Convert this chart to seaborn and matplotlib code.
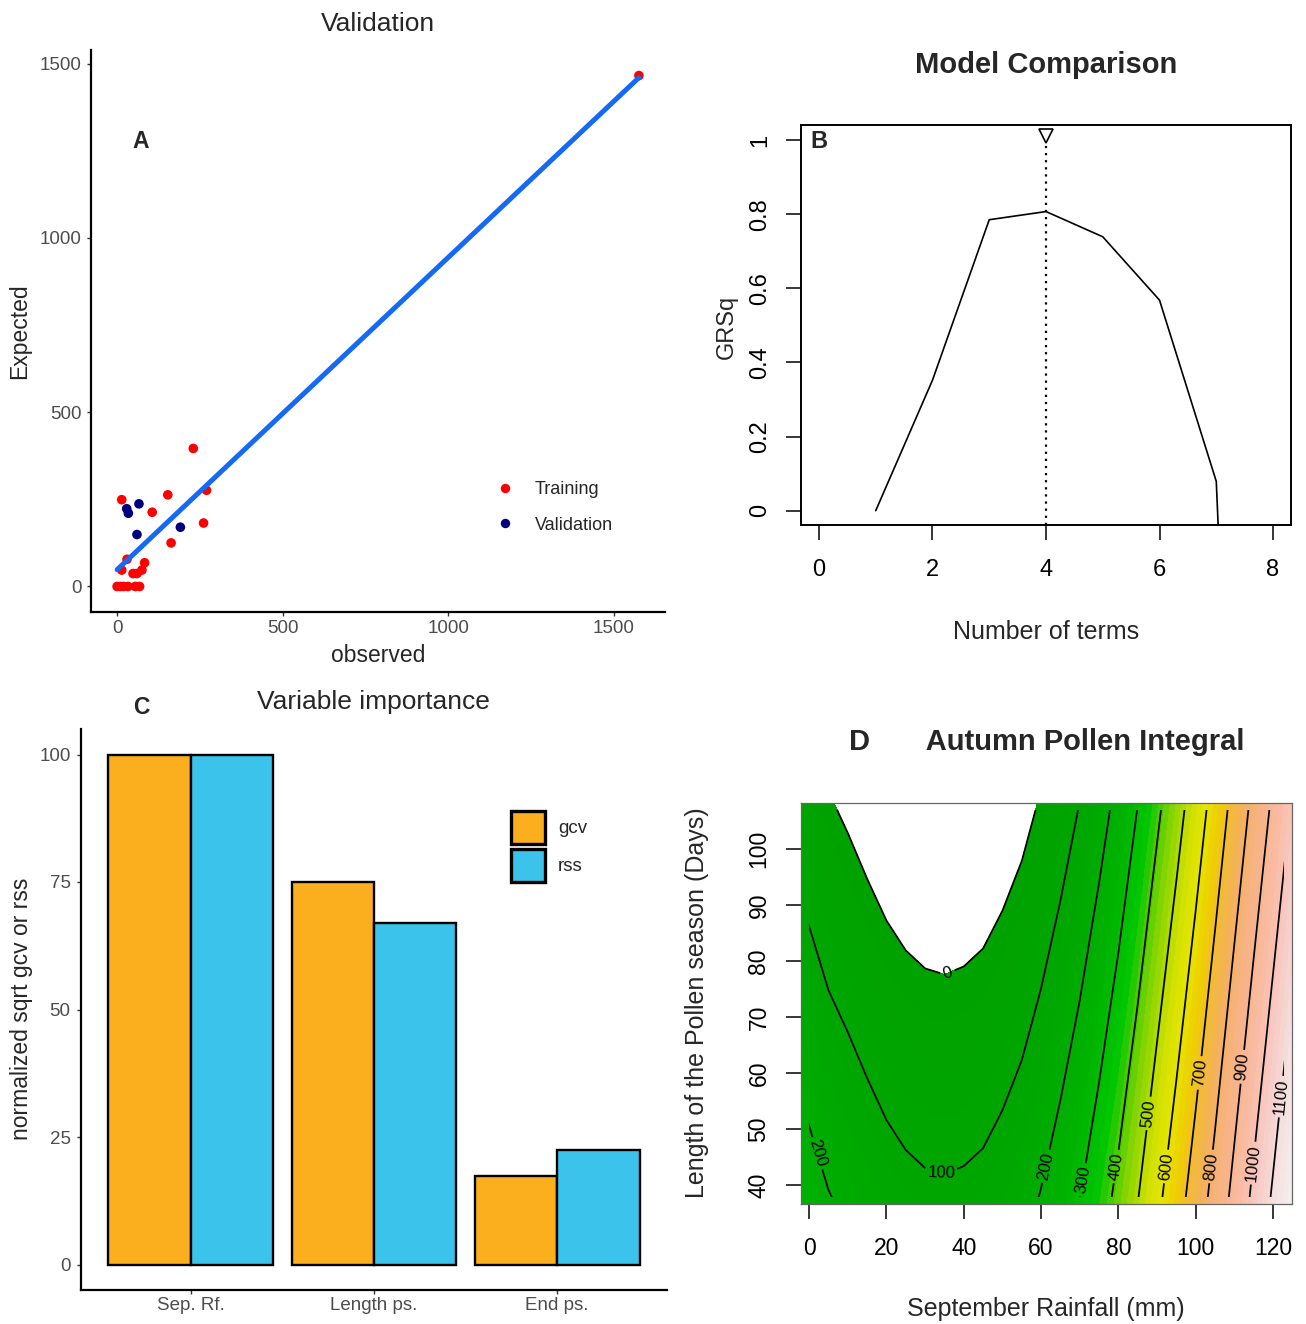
import numpy as np
import pandas as pd
import matplotlib
matplotlib.use("Agg")
import matplotlib.pyplot as plt
import seaborn as sns
from matplotlib.colors import LinearSegmentedColormap
from matplotlib.patches import Patch, Rectangle
from matplotlib.lines import Line2D

# ---------------- Panel A data (Validation) ----------------
train_obs = [0, 10, 20, 33, 55, 68, 14, 30, 48, 60, 75, 83, 14, 106, 153, 163, 230, 261, 270, 1575]
train_exp = [0, 0, 0, 0, 0, 0, 47, 78, 37, 37, 47, 68, 249, 213, 263, 125, 396, 182, 276, 1466]
valid_obs = [66, 29, 34, 60, 191]
valid_exp = [237, 223, 210, 149, 170]
set_names = ["Training", "Validation"]
a_ticks = [0, 500, 1000, 1500]

# ---------------- Panel B data (Model comparison) ----------------
n_terms = [1, 2, 3, 4, 5, 6, 7, 8]
grsq = [0.0, 0.352, 0.785, 0.807, 0.739, 0.568, 0.079, -3.5]
b_xticks = [0, 2, 4, 6, 8]
b_yticks = [0, 0.2, 0.4, 0.6, 0.8, 1.0]
b_yticklabels = ["0", "0.2", "0.4", "0.6", "0.8", "1"]

# ---------------- Panel C data (Variable importance) ----------------
variables = ["Sep. Rf.", "Length ps.", "End ps."]
gcv = [100, 75, 17.3]
rss = [100, 67, 22.5]
c_yticks = [0, 25, 50, 75, 100]

# ---------------- Panel D data (Autumn Pollen Integral surface) ----------------
rain_mm = [-2.2, 0, 5, 10, 15, 20, 25, 30, 35, 40, 45, 50, 55, 60, 65, 70, 75, 80,
           85, 90, 95, 100, 105, 110, 115, 120, 125]
length_days = [36.6, 60.5, 84.4, 108.2]
pollen_row_36 = [253, 239, 207, 186, 163, 142, 127, 118, 115, 119, 128, 147, 172, 208, 252, 302,
                 361, 426, 500, 581, 662, 747, 837, 930, 1023, 1115, 1208]
pollen_row_60 = [186, 172, 140, 119, 96, 75, 60, 51, 48, 52, 61, 80, 105, 141, 185, 235,
                 294, 359, 433, 514, 595, 680, 770, 863, 956, 1048, 1141]
pollen_row_84 = [119, 105, 73, 52, 29, 8, -7, -16, -19, -15, -6, 13, 38, 74, 118, 168,
                 227, 292, 366, 447, 528, 613, 703, 796, 889, 981, 1074]
pollen_row_108 = [52, 38, 6, -15, -38, -59, -74, -83, -86, -82, -73, -54, -29, 7, 51, 101,
                  160, 225, 299, 380, 461, 546, 636, 729, 822, 914, 1007]
contour_levels = [0, 100, 200, 300, 400, 500, 600, 700, 800, 900, 1000, 1100]
obs_rain_range = (0, 122.8)
obs_length_range = (37.8, 107.0)
label_positions = [(36, 77.5), (34.2, 42.1), (2.8, 45.8), (61.5, 43.3), (70.9, 40.9),
                   (79.5, 43.3), (87.7, 52.8), (92.4, 43.3), (101.4, 60.0), (104.0, 43.3),
                   (112.3, 61.1), (114.9, 43.9), (121.9, 55.8)]
d_xticks = [0, 20, 40, 60, 80, 100, 120]
d_yticks = [40, 50, 60, 70, 80, 90, 100]

# ---------------- styling ----------------
sns.set_style("ticks")
plt.rcParams["font.family"] = ["Liberation Sans", "DejaVu Sans"]

W, H = 1306, 1324
fig = plt.figure(figsize=(W / 100, H / 100), dpi=100)


def rect(l, t, r, b):
    return [l / W, 1 - b / H, (r - l) / W, (b - t) / H]


def fx(px):
    return px / W


def fy(py):
    return 1 - py / H


axA = fig.add_axes(rect(91, 50, 665, 612))
axB = fig.add_axes(rect(800.8, 125.2, 1291.2, 525.5))
axC = fig.add_axes(rect(81, 729, 667, 1290))
axD = fig.add_axes(rect(800.7, 803.3, 1292.3, 1204))

grey_txt = "#4D4D4D"

# ================= Panel A =================
dfA = pd.DataFrame({
    "observed": train_obs + valid_obs,
    "expected": train_exp + valid_exp,
    "set": [set_names[0]] * len(train_obs) + [set_names[1]] * len(valid_obs),
})
pal_A = {"Training": "#FF0000", "Validation": "#00007F"}
sns.scatterplot(data=dfA, x="observed", y="expected", hue="set", palette=pal_A,
                s=48, edgecolor="none", linewidth=0, ax=axA, legend=False, zorder=2)
sns.regplot(data=dfA, x="observed", y="expected", scatter=False, ci=None,
            color="#1469F5", line_kws={"lw": 3.6, "zorder": 3}, ax=axA)
axA.margins(x=0.05, y=0.05)
axA.set_xticks(a_ticks)
axA.set_yticks(a_ticks)
for s in ["top", "right"]:
    axA.spines[s].set_visible(False)
for s in ["left", "bottom"]:
    axA.spines[s].set_linewidth(1.6)
    axA.spines[s].set_color("black")
axA.tick_params(axis="both", direction="out", length=3, width=1, color="#333333",
                labelcolor=grey_txt, labelsize=13.5)
axA.tick_params(axis="x", pad=2.7)
axA.tick_params(axis="y", pad=4)
axA.set_xlabel("observed", fontsize=16.5)
axA.set_ylabel("Expected", fontsize=16.5)
axA.xaxis.set_label_coords(fx(378), fy(655), transform=fig.transFigure)
axA.xaxis.label.set_va("center")
axA.yaxis.set_label_coords(fx(20), fy(331), transform=fig.transFigure)
axA.yaxis.label.set_va("center")
axA.text(72, 1277, "A", fontsize=16.5, fontweight="bold", ha="center", va="center")
fig.text(fx(378), fy(24), "Validation", fontsize=19, ha="center", va="center")
hA = [Line2D([], [], ls="none", marker="o", ms=6.8, mfc=pal_A[n], mec="none") for n in set_names]
axA.legend(hA, set_names, loc="upper left", bbox_to_anchor=(fx(496), fy(481)),
           bbox_transform=fig.transFigure, frameon=False, fontsize=13,
           handlelength=1.0, handletextpad=1.15, labelspacing=1.03, borderpad=0,
           borderaxespad=0)

# ================= Panel B =================
dfB = pd.DataFrame({"terms": n_terms, "grsq": grsq})
sns.lineplot(data=dfB, x="terms", y="grsq", color="black", lw=1.2, ax=axB)
best = dfB.loc[dfB["grsq"].idxmax(), "terms"]
axB.vlines(best, -0.04, 1.0, colors="black", linestyles=(0, (1, 2.2)), lw=1.6)
axB.plot([best], [1.012], marker="v", ms=10, mfc="white", mec="black", mew=1.2,
         ls="none", clip_on=False)
axB.set_xlim(-0.32, 8.32)
axB.set_ylim(-0.04, 1.04)
axB.set_xticks(b_xticks)
axB.set_yticks(b_yticks)
axB.set_yticklabels(b_yticklabels, rotation=90, va="center")
for s in axB.spines.values():
    s.set_visible(True)
    s.set_linewidth(1.4)
    s.set_color("black")
axB.tick_params(axis="both", direction="out", length=11, width=1.1, color="black",
                labelcolor="black", labelsize=17)
axB.tick_params(axis="x", pad=13)
axB.tick_params(axis="y", pad=10.5)
axB.set_xlabel("Number of terms", fontsize=18)
axB.set_ylabel("GRSq", fontsize=17)
axB.xaxis.set_label_coords(fx(1046), fy(632), transform=fig.transFigure)
axB.xaxis.label.set_va("center")
axB.yaxis.set_label_coords(fx(727), fy(327), transform=fig.transFigure)
axB.yaxis.label.set_va("center")
axB.text(0.0, 0.997, "B", fontsize=17, fontweight="bold", ha="center", va="center")
fig.text(fx(1046), fy(65), "Model Comparison", fontsize=21, fontweight="bold",
         ha="center", va="center")

# ================= Panel C =================
dfC = pd.DataFrame({
    "variable": variables * 2,
    "metric": ["gcv"] * len(variables) + ["rss"] * len(variables),
    "value": gcv + rss,
})
pal_C = {"gcv": "#FCAF1E", "rss": "#3CC3EC"}
sns.barplot(data=dfC, x="variable", y="value", hue="metric", palette=pal_C,
            width=0.9, saturation=1, edgecolor="black", linewidth=1.7,
            ax=axC, legend=False)
axC.set_xlim(-0.6, 2.6)
axC.set_ylim(-5, 105)
axC.set_yticks(c_yticks)
for s in ["top", "right"]:
    axC.spines[s].set_visible(False)
for s in ["left", "bottom"]:
    axC.spines[s].set_linewidth(1.6)
    axC.spines[s].set_color("black")
axC.tick_params(axis="both", direction="out", length=3, width=1, color="#333333",
                labelcolor=grey_txt, labelsize=13.5)
axC.tick_params(axis="x", pad=2)
axC.tick_params(axis="y", pad=4.5)
axC.set_xlabel("")
axC.set_ylabel("normalized sqrt gcv or rss", fontsize=16.5)
axC.yaxis.set_label_coords(fx(22), fy(1009), transform=fig.transFigure)
axC.yaxis.label.set_va("center")
fig.text(fx(373), fy(702), "Variable importance", fontsize=19, ha="center", va="center")
fig.text(fx(141), fy(708), "C", fontsize=16.5, fontweight="bold", ha="center", va="center")
hC = [Patch(facecolor=pal_C[m], edgecolor="black", linewidth=2.4) for m in ["gcv", "rss"]]
axC.legend(hC, ["gcv", "rss"], loc="upper left", bbox_to_anchor=(fx(511), fy(811)),
           bbox_transform=fig.transFigure, frameon=False, fontsize=13.5,
           handlelength=1.8, handleheight=2.35, handletextpad=0.7, labelspacing=0.25,
           borderpad=0, borderaxespad=0)

# ================= Panel D =================
Z = np.array([pollen_row_36, pollen_row_60, pollen_row_84, pollen_row_108], dtype=float)
X, Y = np.meshgrid(rain_mm, length_days)
zmax = 1210.0
anchors = [(0, "#00A200"), (150, "#00A800"), (250, "#00B200"), (310, "#00BE00"),
           (350, "#00C600"), (390, "#3ACB00"), (440, "#7ED300"), (500, "#B2DC00"),
           (555, "#D8E200"), (605, "#E6E400"), (655, "#EFCE00"), (715, "#F2BA34"),
           (790, "#F4B064"), (870, "#F7B388"), (950, "#F9BAA0"), (1030, "#F8C8C2"),
           (1110, "#F4DEDC"), (1210, "#F2F0F0")]
cmap = LinearSegmentedColormap.from_list("terrainish", [(z / zmax, c) for z, c in anchors])
axD.contourf(X, Y, Z, levels=np.linspace(0, zmax, 51), cmap=cmap, vmin=0, vmax=zmax)
cs = axD.contour(X, Y, Z, levels=contour_levels, colors="black", linewidths=1.25)
axD.clabel(cs, fmt="%d", fontsize=12, inline=True, inline_spacing=3, manual=label_positions)
clip = Rectangle((obs_rain_range[0], obs_length_range[0]),
                 obs_rain_range[1] - obs_rain_range[0],
                 obs_length_range[1] - obs_length_range[0],
                 transform=axD.transData, fc="none", ec="none")
cs.set_clip_path(clip)
axD.set_xlim(rain_mm[0], rain_mm[-1])
axD.set_ylim(length_days[0], length_days[-1])
axD.set_xticks(d_xticks)
axD.set_yticks(d_yticks)
axD.set_yticklabels([str(v) for v in d_yticks], rotation=90, va="center")
for s in axD.spines.values():
    s.set_visible(True)
    s.set_linewidth(0.9)
    s.set_color("#666666")
axD.tick_params(axis="both", direction="out", length=11, width=1.1, color="black",
                labelcolor="black", labelsize=16.5)
axD.tick_params(axis="x", pad=12.5)
axD.tick_params(axis="y", pad=10.8)
axD.set_xlabel("September Rainfall (mm)", fontsize=18)
axD.set_ylabel("Length of the Pollen season (Days)", fontsize=18)
axD.xaxis.set_label_coords(fx(1046), fy(1309), transform=fig.transFigure)
axD.xaxis.label.set_va("center")
axD.yaxis.set_label_coords(fx(697), fy(1003), transform=fig.transFigure)
axD.yaxis.label.set_va("center")
fig.text(fx(1046.5), fy(742), "D       Autumn Pollen Integral", fontsize=21,
         fontweight="bold", ha="center", va="center")

fig.savefig("out.png", dpi=100)
